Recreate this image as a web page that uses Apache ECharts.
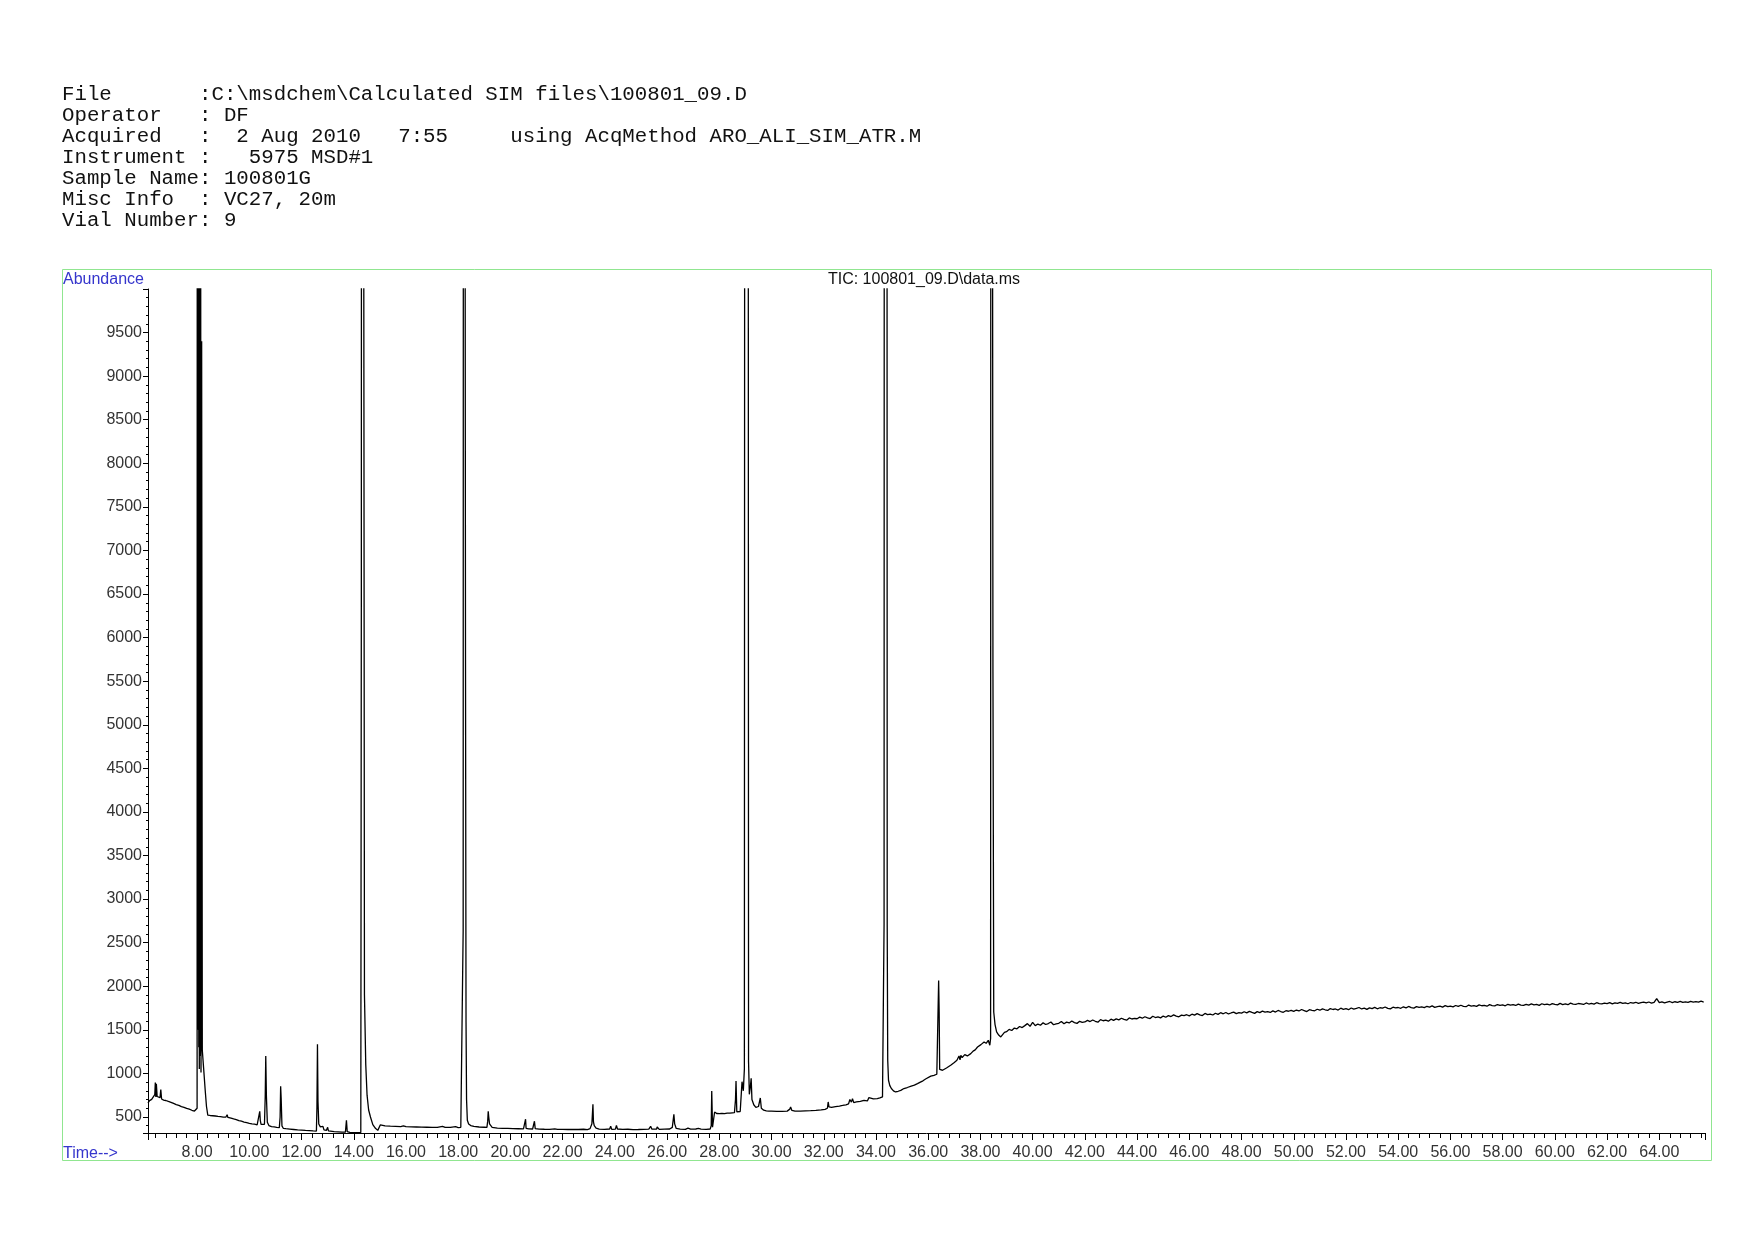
<!DOCTYPE html>
<html>
<head>
<meta charset="utf-8">
<title>TIC: 100801_09.D\data.ms</title>
<script src="https://cdn.jsdelivr.net/npm/echarts@6/dist/echarts.min.js"></script>
<style>
  html, body { margin: 0; padding: 0; background: #fff; }
  #chart { width: 1754px; height: 1240px; }
</style>
</head>
<body>
<div id="chart"></div>
<script>
// report header, printed above the plot
const headerLines = [
  'File       :C:\\msdchem\\Calculated SIM files\\100801_09.D',
  'Operator   : DF',
  'Acquired   :  2 Aug 2010   7:55     using AcqMethod ARO_ALI_SIM_ATR.M',
  'Instrument :   5975 MSD#1',
  'Sample Name: 100801G',
  'Misc Info  : VC27, 20m',
  'Vial Number: 9'
]
const plotTitle = 'TIC: 100801_09.D\\data.ms'

// time axis (min) and abundance axis
const timeMin = 6.12
const timeMax = 65.75
const abundMin = 316
const abundMax = 10000

// [time, abundance], off-scale scans clipped at the top
const earlyTrace = [
  [6.12, 660], [6.18, 688], [6.26, 702], [6.33, 712], [6.38, 755], [6.40, 895], [6.42, 728], [6.44, 880],
  [6.47, 735], [6.52, 716], [6.58, 722], [6.61, 815], [6.64, 706], [6.72, 694], [6.80, 689], [6.90, 678],
  [7.00, 668], [7.10, 655], [7.20, 642], [7.30, 633], [7.40, 619], [7.50, 611], [7.60, 598], [7.70, 590],
  [7.80, 577], [7.90, 568], [7.97, 560], [8.00, 600], [8.015, 30000], [8.025, 1900], [8.035, 30000],
  [8.045, 1500], [8.055, 30000], [8.065, 1300], [8.075, 30000], [8.085, 1050], [8.095, 30000],
  [8.105, 1200], [8.115, 30000], [8.13, 30000], [8.15, 1010], [8.175, 9400],
  [8.20, 1265], [8.25, 1060], [8.31, 810], [8.36, 620], [8.41, 522], [8.50, 517], [8.60, 514], [8.70, 511],
  [8.80, 506], [8.90, 503], [9.00, 499], [9.10, 497], [9.15, 526], [9.18, 494], [9.30, 486], [9.40, 477],
  [9.50, 469], [9.60, 457], [9.70, 451], [9.80, 441], [9.90, 434], [10.00, 426], [10.10, 421], [10.20, 417],
  [10.30, 410], [10.37, 406], [10.40, 565], [10.42, 462], [10.45, 414], [10.52, 410], [10.58, 416],
  [10.61, 740], [10.63, 1200], [10.655, 738], [10.69, 440], [10.75, 401], [10.85, 389], [10.95, 386],
  [11.05, 381], [11.15, 378], [11.18, 500], [11.20, 852], [11.22, 714], [11.25, 398], [11.30, 370],
  [11.40, 366], [11.55, 361], [11.70, 356], [11.85, 351], [12.00, 349], [12.15, 345], [12.30, 343],
  [12.45, 340], [12.57, 338], [12.59, 610], [12.61, 1334], [12.63, 680], [12.66, 420], [12.72, 386],
  [12.78, 371], [12.82, 392], [12.86, 352], [12.95, 346], [13.00, 381], [13.03, 341], [13.10, 336],
  [13.25, 331], [13.40, 329], [13.55, 326], [13.68, 325], [13.72, 462], [13.75, 331], [13.85, 322],
  [14.00, 321], [14.15, 320], [14.27, 322]
]

const midTrace = [
  [14.29, 6400], [14.31, 30000], [14.37, 30000], [14.39, 8650], [14.41, 1900], [14.46, 1100], [14.51, 750],
  [14.57, 580], [14.64, 500], [14.73, 412], [14.83, 370], [14.92, 346], [14.98, 340], [15.02, 410],
  [15.08, 401], [15.20, 398], [15.40, 394], [15.60, 392], [15.80, 389], [15.90, 398], [16.00, 388],
  [16.20, 386], [16.40, 385], [16.60, 383], [16.80, 382], [17.00, 381], [17.20, 381], [17.40, 392],
  [17.50, 380], [17.70, 380], [17.90, 388], [18.00, 378], [18.10, 381], [18.17, 386], [18.19, 2630],
  [18.21, 30000], [18.26, 30000], [18.28, 5740], [18.30, 1590], [18.32, 700], [18.35, 462], [18.40, 420],
  [18.48, 401], [18.60, 391], [18.80, 385], [19.00, 382], [19.10, 380], [19.13, 452], [19.15, 566],
  [19.17, 500], [19.20, 421], [19.30, 381], [19.50, 373], [19.70, 370], [19.90, 368], [20.10, 366],
  [20.30, 365], [20.50, 364], [20.56, 366], [20.58, 474], [20.60, 370], [20.70, 363], [20.85, 362],
  [20.92, 451], [20.95, 366], [21.10, 361], [21.30, 359], [21.50, 358], [21.70, 363], [21.80, 357],
  [22.00, 358], [22.20, 356], [22.40, 357], [22.60, 356], [22.80, 359], [22.95, 355], [23.05, 366],
  [23.12, 421], [23.16, 646], [23.18, 443], [23.21, 400], [23.28, 371], [23.40, 360], [23.60, 358],
  [23.80, 362], [23.84, 393], [23.88, 358], [24.02, 361], [24.06, 404], [24.10, 362], [24.30, 357],
  [24.50, 359], [24.70, 355], [24.90, 356], [25.10, 358], [25.30, 360], [25.37, 393], [25.42, 360],
  [25.60, 362], [25.62, 385], [25.70, 358], [25.90, 360], [26.10, 362], [26.20, 381], [26.26, 531],
  [26.29, 421], [26.35, 368], [26.50, 360], [26.70, 358], [26.80, 372], [26.90, 360], [27.10, 362],
  [27.20, 368], [27.30, 360], [27.50, 358], [27.65, 362], [27.69, 400], [27.71, 798], [27.74, 382],
  [27.78, 378], [27.82, 557], [27.90, 540], [28.00, 538], [28.10, 542], [28.20, 539], [28.30, 545],
  [28.40, 543], [28.50, 548], [28.58, 550], [28.62, 700], [28.64, 912], [28.67, 560], [28.72, 555],
  [28.80, 562], [28.87, 905], [28.92, 800], [28.96, 1050], [28.99, 30000], [29.09, 30000], [29.12, 1131],
  [29.15, 760], [29.19, 850], [29.22, 944], [29.25, 700], [29.32, 640], [29.40, 610], [29.50, 620],
  [29.57, 718], [29.61, 600], [29.70, 578], [29.80, 570], [29.90, 566]
]

const lateTrace = [
  [30.00, 566], [30.20, 563], [30.40, 565], [30.60, 567], [30.70, 590], [30.73, 615], [30.78, 575],
  [30.90, 568], [31.10, 566], [31.30, 570], [31.50, 572], [31.70, 575], [31.90, 582], [32.05, 588],
  [32.14, 600], [32.17, 672], [32.20, 615], [32.30, 610], [32.45, 618], [32.60, 625], [32.72, 632],
  [32.77, 646], [32.85, 640], [32.95, 650], [33.00, 700], [33.03, 722], [33.06, 670], [33.10, 710],
  [33.15, 665], [33.25, 672], [33.40, 680], [33.54, 690], [33.60, 700], [33.67, 684], [33.73, 722],
  [33.80, 700], [33.90, 708], [34.05, 711], [34.15, 718], [34.25, 730], [34.28, 735], [34.31, 2700],
  [34.33, 30000], [34.41, 30000], [34.43, 2700], [34.45, 1150], [34.48, 921], [34.53, 860], [34.59, 826],
  [34.67, 800], [34.75, 787], [34.85, 795], [34.95, 805], [35.07, 826], [35.20, 838], [35.35, 855],
  [35.47, 866], [35.59, 883], [35.70, 900], [35.80, 915], [35.90, 935], [35.97, 952], [36.10, 968],
  [36.22, 978], [36.33, 990], [36.37, 1010], [36.40, 2065], [36.42, 1705], [36.44, 1045], [36.55, 1036],
  [36.70, 1062], [36.86, 1093], [37.00, 1125], [37.10, 1150], [37.18, 1200], [37.22, 1155], [37.25, 1208],
  [37.30, 1180], [37.40, 1215], [37.50, 1200], [37.63, 1227], [37.72, 1255], [37.80, 1270], [37.89, 1303],
  [37.95, 1285], [38.02, 1330], [38.08, 1318], [38.14, 1360], [38.22, 1345], [38.30, 1380], [38.36, 1323],
  [38.39, 1400], [38.41, 30000], [38.46, 30000], [38.48, 5600], [38.51, 1705], [38.56, 1560], [38.62, 1475],
  [38.70, 1440], [38.78, 1418], [38.84, 1437], [38.92, 1470]
]

// plateau after the last peak: one scan every 0.1 min from 39.0 min
const plateauStart = 39.0
const plateauStep = 0.1
const plateauAbundance = [
  1478, 1505, 1492, 1520, 1511, 1538, 1526, 1548, 1571, 1540,
  1585, 1548, 1566, 1552, 1580, 1561, 1572, 1590, 1558, 1569,
  1575, 1596, 1570, 1588, 1579, 1601, 1583, 1574, 1597, 1586,
  1590, 1608, 1595, 1613, 1598, 1587, 1617, 1604, 1611, 1599,
  1622, 1608, 1625, 1614, 1633, 1619, 1611, 1636, 1624, 1630,
  1627, 1645, 1633, 1650, 1638, 1629, 1656, 1641, 1649, 1637,
  1658, 1644, 1663, 1652, 1671, 1657, 1649, 1668, 1662, 1673,
  1660, 1679, 1668, 1686, 1672, 1664, 1688, 1675, 1681, 1670,
  1690, 1677, 1696, 1684, 1699, 1682, 1693, 1703, 1686, 1697,
  1691, 1707, 1695, 1712, 1700, 1689, 1709, 1698, 1714, 1702,
  1708, 1699, 1717, 1704, 1722, 1710, 1701, 1719, 1713, 1724,
  1712, 1727, 1716, 1733, 1721, 1709, 1731, 1724, 1718, 1736,
  1725, 1741, 1730, 1722, 1744, 1733, 1739, 1727, 1748, 1735,
  1742, 1731, 1750, 1737, 1745, 1756, 1739, 1748, 1734, 1752,
  1744, 1758, 1741, 1753, 1749, 1762, 1746, 1740, 1759, 1751,
  1756, 1747, 1764, 1752, 1768, 1755, 1749, 1766, 1758, 1762,
  1754, 1770, 1761, 1775, 1758, 1766, 1772, 1760, 1777, 1765,
  1771, 1763, 1779, 1768, 1782, 1770, 1765, 1784, 1773, 1778,
  1769, 1786, 1776, 1781, 1771, 1789, 1778, 1774, 1790, 1780,
  1785, 1776, 1793, 1782, 1788, 1779, 1795, 1784, 1780, 1792,
  1783, 1797, 1787, 1791, 1780, 1799, 1788, 1794, 1785, 1801,
  1792, 1786, 1803, 1790, 1797, 1788, 1806, 1795, 1791, 1802,
  1798, 1791, 1808, 1796, 1803, 1794, 1811, 1800, 1797, 1806,
  1801, 1812, 1798, 1809, 1804, 1815, 1803, 1810, 1799, 1813,
  1807, 1816, 1804, 1812, 1818, 1809, 1819, 1806, 1815, 1858,
  1812, 1820, 1809, 1818, 1825, 1813, 1822, 1816, 1827, 1815,
  1820, 1814, 1826, 1818, 1823, 1817, 1828, 1819
]

const plateauTrace = plateauAbundance.map((v, i) => [+(plateauStart + i * plateauStep).toFixed(2), v])
const ticTrace = earlyTrace.concat(midTrace, lateTrace, plateauTrace)

const chart = echarts.init(document.getElementById('chart'), null, { renderer: 'canvas' })

const labelFont = '"Liberation Sans", Arial, sans-serif'

chart.setOption({
  animation: false,
  backgroundColor: '#fff',
  grid: {
    left: 148,
    top: 289,
    width: 1557,
    height: 844,
    containLabel: false
  },
  graphic: [
    {
      type: 'text',
      left: 62,
      top: 84,
      style: {
        text: headerLines.join('\n'),
        fontFamily: '"Liberation Mono", "DejaVu Sans Mono", monospace',
        fontSize: 20.75,
        lineHeight: 21,
        fill: '#111'
      }
    },
    {
      type: 'rect',
      shape: { x: 62.5, y: 269.5, width: 1649, height: 891 },
      style: { fill: 'none', stroke: '#90e690', lineWidth: 1 },
      silent: true
    },
    {
      type: 'text',
      x: 63,
      y: 272,
      style: { text: 'Abundance', fontFamily: labelFont, fontSize: 16, fill: '#3535cc' }
    },
    {
      type: 'text',
      x: 924,
      y: 272,
      style: { text: plotTitle, fontFamily: labelFont, fontSize: 16, fill: '#111', align: 'center' }
    },
    {
      type: 'text',
      x: 63,
      y: 1146,
      style: { text: 'Time-->', fontFamily: labelFont, fontSize: 16, fill: '#3535cc' }
    }
  ],
  xAxis: {
    type: 'value',
    min: timeMin,
    max: timeMax,
    splitNumber: 30,
    minInterval: 2,
    maxInterval: 2,
    axisLine: { show: true, lineStyle: { color: '#000', width: 1 } },
    axisTick: { show: true, inside: false, length: 7, lineStyle: { color: '#000' } },
    minorTick: { show: true, splitNumber: 5, length: 5, lineStyle: { color: '#000' } },
    splitLine: { show: false },
    axisLabel: {
      margin: 12,
      color: '#333',
      fontFamily: labelFont,
      fontSize: 16,
      showMinLabel: false,
      showMaxLabel: false,
      formatter: v => v.toFixed(2)
    }
  },
  yAxis: {
    type: 'value',
    min: abundMin,
    max: abundMax,
    splitNumber: 20,
    minInterval: 500,
    maxInterval: 500,
    axisLine: { show: true, lineStyle: { color: '#000', width: 1 } },
    axisTick: { show: true, inside: false, length: 5, lineStyle: { color: '#000' } },
    minorTick: { show: true, splitNumber: 5, length: 2, lineStyle: { color: '#000' } },
    splitLine: { show: false },
    axisLabel: {
      margin: 6,
      color: '#333',
      fontFamily: labelFont,
      fontSize: 16,
      showMinLabel: false,
      showMaxLabel: false,
      formatter: v => String(Math.round(v))
    }
  },
  series: [{
    name: 'TIC',
    type: 'line',
    data: ticTrace,
    showSymbol: false,
    symbol: 'none',
    clip: true,
    sampling: null,
    lineStyle: { color: '#000', width: 1.3 },
    emphasis: { disabled: true }
  }]
})
</script>
</body>
</html>
